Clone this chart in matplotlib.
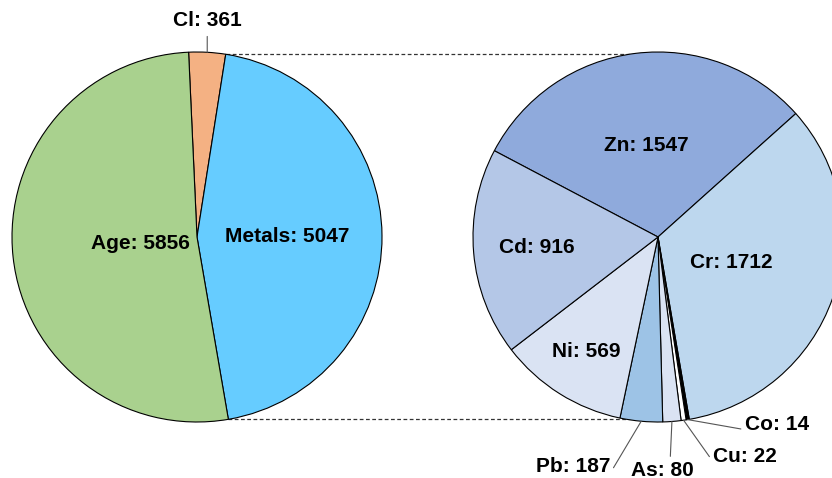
import matplotlib.pyplot as plt
import numpy as np

plt.rcParams['font.family'] = ['Liberation Sans', 'DejaVu Sans']

# outer pie
main_labels = ['Cl', 'Metals', 'Age']
main_values = [361, 5047, 5856]
main_colors = ['#F4B183', '#66CCFF', '#A9D18E']

# breakdown of metals
metal_labels = ['Zn', 'Cr', 'Co', 'Cu', 'As', 'Pb', 'Ni', 'Cd']
metal_values = [1547, 1712, 14, 22, 80, 187, 569, 916]
metal_colors = ['#8FAADC', '#BDD7EE', '#000000', '#FFFFFF',
                '#DAE3F3', '#9DC3E6', '#DAE3F3', '#B4C7E7']

fig = plt.figure(figsize=(8.32, 4.78), dpi=100)
ax = fig.add_axes([0, 0, 1, 1])

r = 185
c1 = (197, 241)
c2 = (658, 241)
wp = dict(edgecolor='black', linewidth=0.8)

w1, _ = ax.pie(main_values, colors=main_colors, startangle=92.6,
               counterclock=False, radius=r, center=c1,
               wedgeprops=wp, frame=True)
w2, _ = ax.pie(metal_values, colors=metal_colors, startangle=152.2,
               counterclock=False, radius=r, center=c2,
               wedgeprops=wp, frame=True)


def mid(w):
    a = np.deg2rad((w.theta1 + w.theta2) / 2)
    return np.cos(a), np.sin(a)


fs = 15
# labels inside the wedges: fraction of radius
inside1 = {'Metals': 0.49, 'Age': 0.31}
inside2 = {'Zn': 0.5, 'Cr': 0.42, 'Ni': 0.73, 'Cd': 0.66}

for w, lab, val in zip(w1, main_labels, main_values):
    dx, dy = mid(w)
    if lab in inside1:
        f = inside1[lab]
        ax.text(c1[0] + dx * r * f, c1[1] + dy * r * f, f'{lab}: {val}',
                ha='center', va='center', fontsize=fs, fontweight='bold')
    else:
        ax.annotate(f'{lab}: {val}', xy=(c1[0] + dx * r, c1[1] + dy * r),
                    xytext=(c1[0] + dx * r, 458), ha='center', va='center',
                    fontsize=fs, fontweight='bold',
                    arrowprops=dict(arrowstyle='-', color='#555555', lw=0.8,
                                    shrinkA=3, shrinkB=0, relpos=(0.5, 0)))

outside = {'Co': ((745, 54), 'left', (0, 0.2)),
           'Cu': ((713, 22), 'left', (0, 0.2)),
           'As': ((662, 8), 'center', (0.63, 1)),
           'Pb': ((610, 12), 'right', (1, 0.1))}

for w, lab, val in zip(w2, metal_labels, metal_values):
    dx, dy = mid(w)
    if lab in inside2:
        f = inside2[lab]
        ax.text(c2[0] + dx * r * f, c2[1] + dy * r * f, f'{lab}: {val}',
                ha='center', va='center', fontsize=fs, fontweight='bold')
    else:
        pos, ha, rp = outside[lab]
        ax.annotate(f'{lab}: {val}', xy=(c2[0] + dx * r, c2[1] + dy * r),
                    xytext=pos, ha=ha, va='center',
                    fontsize=fs, fontweight='bold',
                    arrowprops=dict(arrowstyle='-', color='#555555', lw=0.8,
                                    shrinkA=1, shrinkB=0, relpos=rp))

# dashed connectors from the Metals wedge to the breakdown pie
m = w1[1]
for ang in [m.theta1, m.theta2]:
    a = np.deg2rad(ang)
    x0 = c1[0] + r * np.cos(a)
    y0 = c1[1] + r * np.sin(a)
    ax.plot([x0, c2[0]], [y0, y0], color='#333333', lw=0.9, zorder=0,
            dashes=(3, 2))

ax.set_xlim(0, 832)
ax.set_ylim(0, 478)
ax.set_aspect('equal')
ax.axis('off')

fig.savefig('out.png', dpi=100)
